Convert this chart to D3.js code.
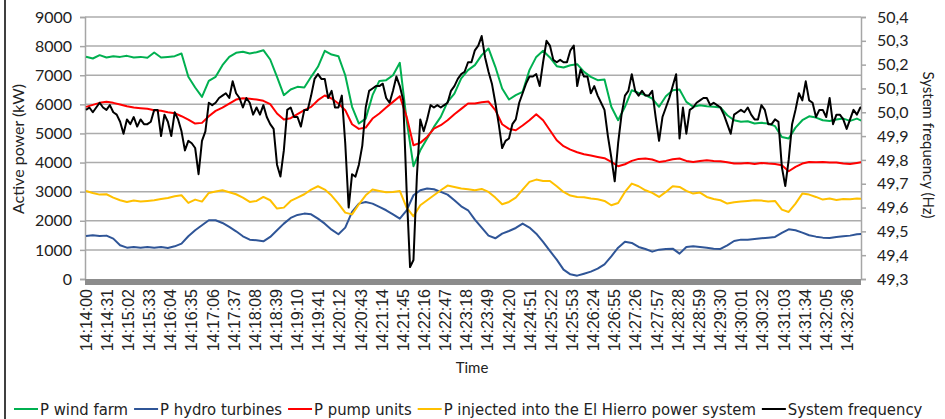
<!DOCTYPE html>
<html>
<head>
<meta charset="utf-8">
<script src="https://cdn.jsdelivr.net/npm/d3@7"></script>
<style>
  html, body { margin: 0; padding: 0; background: #fff; }
  svg { display: block; }
</style>
</head>
<body>
<svg id="chart" width="945" height="419"></svg>
<script>
// Sampling steps (seconds) of the recorded series, counted from 14:14:00
const powerStep = 10;
const freqStep = 5;

// Category labels on the time axis (every 31 s)
const timeLabels = [
  "14:14:00","14:14:31","14:15:02","14:15:33","14:16:04","14:16:35","14:17:06","14:17:37",
  "14:18:08","14:18:39","14:19:10","14:19:41","14:20:12","14:20:43","14:21:14","14:21:45",
  "14:22:16","14:22:47","14:23:18","14:23:49","14:24:20","14:24:51","14:25:22","14:25:53",
  "14:26:24","14:26:55","14:27:26","14:27:57","14:28:28","14:28:59","14:29:30","14:30:01",
  "14:30:32","14:31:03","14:31:34","14:32:05","14:32:36"
];

const powerTicks = [0, 1000, 2000, 3000, 4000, 5000, 6000, 7000, 8000, 9000];
const freqTicks = [49.3, 49.4, 49.5, 49.6, 49.7, 49.8, 49.9, 50.0, 50.1, 50.2, 50.3, 50.4];

// Active power, kW
const windFarm = [
  7632,7575,7690,7610,7655,7630,7665,7610,7630,7600,
  7780,7610,7630,7655,7745,6945,6578,6257,6807,6945,
  7345,7630,7770,7805,7745,7790,7860,7540,6945,6315,
  6510,6600,6580,6945,7290,7840,7710,7655,7000,5915,
  5340,5510,6315,6805,6830,7000,7425,5450,3875,4420,
  4825,5225,5570,6085,6370,6890,7175,7345,7690,7920,
  7290,6545,6165,6315,6430,7175,7630,7840,7610,7310,
  7265,7345,7380,7115,6945,6830,6850,5915,5455,5915,
  6485,6395,6315,6200,5915,6280,6485,6510,6085,5915,
  5970,5935,5915,5890,5625,5455,5400,5420,5340,5365,
  5340,5250,4880,4825,5200,5455,5590,5545,5455,5430,
  5480,5510,5430,5510,5400
];

const hydroTurbines = [
  1478,1500,1478,1490,1387,1157,1077,1100,1077,1100,
  1077,1100,1066,1123,1215,1467,1673,1845,2017,2017,
  1925,1788,1639,1467,1352,1330,1295,1444,1673,1902,
  2097,2200,2246,2223,2074,1902,1696,1536,1765,2303,
  2590,2647,2590,2475,2361,2223,2074,2361,2876,3048,
  3106,3083,2991,2899,2705,2498,2361,2040,1765,1490,
  1398,1558,1650,1753,1902,1765,1558,1272,963,665,
  321,160,115,183,252,355,504,779,1077,1283,
  1238,1100,1031,940,1008,1031,1043,871,1100,1123,
  1100,1077,1043,1031,1157,1306,1352,1352,1375,1398,
  1421,1444,1581,1707,1673,1593,1501,1455,1421,1410,
  1444,1467,1490,1536,1558
];

const pumpUnits = [
  5913,5982,6051,6085,6051,5994,5936,5890,5867,5845,
  5799,5776,5730,5696,5592,5478,5340,5363,5592,5776,
  5890,6028,6165,6211,6188,6165,6120,6005,5684,5478,
  5524,5661,5799,5913,6143,6303,6200,6028,5799,5317,
  5157,5203,5512,5684,5890,6085,6280,5570,4595,4676,
  4882,5168,5283,5455,5661,5845,6028,6028,6074,6097,
  5799,5317,5157,5111,5272,5455,5661,5455,5111,4767,
  4561,4446,4355,4286,4240,4194,4149,4022,3873,3942,
  4057,4126,4137,4103,4022,4057,4114,4137,4057,4022,
  4057,4080,4057,4045,4011,3965,3965,3988,3954,3988,
  3965,3954,3908,3702,3850,3965,4022,4011,4022,4000,
  4000,3965,3954,3988,4022
];

const injectedPower = [
  3025,2957,2899,2911,2796,2705,2647,2693,2659,2682,
  2705,2750,2785,2842,2876,2613,2727,2659,2957,3003,
  3048,2980,2911,2796,2647,2682,2819,2705,2418,2452,
  2682,2796,2911,3071,3186,3071,2865,2590,2280,2220,
  2567,2876,3071,3025,2980,2991,3025,2452,2154,2533,
  2705,2876,3048,3209,3163,3106,3083,3048,3094,2991,
  2796,2567,2647,2796,3071,3335,3415,3369,3369,3186,
  2991,2865,2819,2808,2762,2739,2682,2533,2613,2991,
  3278,3186,3048,2957,2819,2991,3186,3163,3025,2934,
  2968,2819,2750,2705,2590,2636,2659,2682,2705,2693,
  2659,2682,2384,2303,2590,2934,2899,2819,2727,2762,
  2716,2750,2739,2762,2750
];

// System frequency, Hz
const systemFrequency = [
  50.01,50.02,50.00,50.02,50.04,50.02,50.01,50.03,50.00,49.99,
  49.96,49.91,49.97,49.95,49.98,49.94,49.97,49.95,49.95,49.96,
  50.01,50.01,49.90,49.99,49.96,49.90,50.00,49.97,49.92,49.84,
  49.88,49.87,49.85,49.74,49.88,49.92,50.04,50.03,50.04,50.06,
  50.07,50.08,50.06,50.13,50.08,50.06,50.02,50.06,50.04,49.99,
  50.02,49.99,50.03,49.98,49.95,49.93,49.78,49.73,49.84,50.01,
  50.02,49.98,49.98,49.94,50.01,50.01,50.07,50.14,50.16,50.14,
  50.14,50.06,50.09,50.02,50.02,50.07,49.87,49.60,49.74,49.73,
  49.78,49.86,50.02,50.09,50.10,50.11,50.11,50.12,50.06,50.04,
  50.09,50.15,50.11,50.05,49.67,49.35,49.38,49.73,49.97,49.92,
  49.97,50.03,50.02,50.03,50.02,50.03,50.04,50.09,50.11,50.14,
  50.16,50.17,50.21,50.21,50.26,50.28,50.32,50.23,50.17,50.12,
  50.04,49.95,49.85,49.88,49.89,49.95,49.97,50.04,50.08,50.12,
  50.15,50.15,50.16,50.11,50.21,50.30,50.28,50.22,50.21,50.22,
  50.21,50.21,50.26,50.28,50.11,50.18,50.15,50.15,50.08,50.11,
  50.07,50.04,50.01,49.90,49.81,49.71,49.87,49.99,50.07,50.09,
  50.16,50.09,50.07,50.09,50.07,50.07,50.09,49.98,49.88,49.98,
  50.02,50.06,50.11,50.16,49.89,50.02,49.91,50.01,50.02,50.04,
  50.05,50.06,50.06,50.03,50.04,50.03,50.02,49.99,49.95,49.91,
  49.99,50.00,50.01,50.00,50.02,49.99,49.97,49.97,50.03,50.01,
  49.95,49.95,49.97,49.96,49.77,49.69,49.80,49.95,50.01,50.08,
  50.05,50.13,50.05,50.04,49.98,50.01,50.01,49.98,50.06,49.95,
  49.99,49.99,49.97,49.93,49.97,50.01,49.99,50.02,50.02
];

const seriesNames = [
  "P wind farm",
  "P hydro turbines",
  "P pump units",
  "P injected into the El Hierro power system",
  "System frequency"
];
const seriesColors = ["#00b050", "#2f5597", "#ff0000", "#ffc000", "#000000"];

// ---------------------------------------------------------------------------
const svg = d3.select("#chart");
const area = { left: 85, right: 861, top: 17, bottom: 279 };
const font = "Lato, 'Open Sans', sans-serif";

const toSeconds = s => {
  const [h, m, sec] = s.split(":").map(Number);
  return (h * 3600 + m * 60 + sec) - (14 * 3600 + 14 * 60);
};

const x = d3.scaleLinear().domain([0, 1136]).range([86, area.right]);
const yP = d3.scaleLinear().domain([0, 9000]).range([area.bottom, area.top]);
const yF = d3.scaleLinear().domain([49.3, 50.4]).range([area.bottom, area.top]);

const commaLocale = d3.formatLocale({ decimal: ",", thousands: ".", grouping: [3], currency: ["", ""] });
const fmtHz = commaLocale.format(".1f");

// outer frame line at the left
svg.append("line")
  .attr("x1", 5).attr("x2", 5).attr("y1", 0).attr("y2", 419)
  .attr("stroke", "#000").attr("stroke-width", 1.5);

// horizontal gridlines
svg.append("g").selectAll("line").data(powerTicks.filter(v => v > 0)).join("line")
  .attr("x1", area.left).attr("x2", area.right)
  .attr("y1", d => yP(d)).attr("y2", d => yP(d))
  .attr("stroke", "#acacac").attr("stroke-width", 1.5);

// left axis
const gL = svg.append("g").attr("transform", `translate(${area.left},0)`)
  .call(d3.axisLeft(yP).tickValues(powerTicks).tickSize(5).tickPadding(8).tickFormat(d3.format("d")));
gL.select(".domain").attr("stroke", "#a6a6a6").attr("stroke-width", 1.5);
gL.selectAll(".tick line").attr("stroke", "#a6a6a6").attr("stroke-width", 1.5);
gL.selectAll(".tick text").attr("font-family", font).attr("font-size", 16).attr("fill", "#222");

// right axis
const gR = svg.append("g").attr("transform", `translate(${area.right},0)`)
  .call(d3.axisRight(yF).tickValues(freqTicks).tickSize(5).tickPadding(11).tickFormat(fmtHz));
gR.select(".domain").attr("stroke", "#a6a6a6").attr("stroke-width", 1.5);
gR.selectAll(".tick line").attr("stroke", "#a6a6a6").attr("stroke-width", 1.5);
gR.selectAll(".tick text").attr("font-family", font).attr("font-size", 16).attr("fill", "#222");

// base band of the time axis
svg.append("rect")
  .attr("x", area.left).attr("y", yP(0))
  .attr("width", area.right - area.left).attr("height", 6)
  .attr("fill", "#8c8c8c");

// time labels
svg.append("g").selectAll("text").data(timeLabels).join("text")
  .attr("transform", d => `translate(${x(toSeconds(d))},289) rotate(-90)`)
  .attr("text-anchor", "end")
  .attr("dy", "0.35em")
  .attr("font-family", "'Liberation Sans', Arial, sans-serif")
  .attr("font-size", 16)
  .attr("fill", "#222")
  .text(d => d);

// axis titles
svg.append("text")
  .attr("transform", `translate(18,149) rotate(-90)`)
  .attr("text-anchor", "middle").attr("dy", "0.35em")
  .attr("font-family", font).attr("font-size", 16).attr("fill", "#222")
  .text("Active power (kW)");
svg.append("text")
  .attr("transform", `translate(928,145) rotate(90)`)
  .attr("text-anchor", "middle").attr("dy", "0.35em")
  .attr("font-family", font).attr("font-size", 15).attr("fill", "#222")
  .text("System frequency (Hz)");
svg.append("text")
  .attr("x", 472).attr("y", 368).attr("dy", "0.35em")
  .attr("text-anchor", "middle")
  .attr("font-family", font).attr("font-size", 15).attr("fill", "#222")
  .text("Time");

// series lines
svg.append("clipPath").attr("id", "plotClip")
  .append("rect").attr("x", area.left).attr("y", 0)
  .attr("width", area.right - area.left).attr("height", area.bottom + 2);

const plotG = svg.append("g").attr("clip-path", "url(#plotClip)");
const powerLine = d3.line().x((d, i) => x(i * powerStep)).y(d => yP(d));
const freqLine = d3.line().x((d, i) => x(i * freqStep)).y(d => yF(d));

[windFarm, hydroTurbines, pumpUnits, injectedPower].forEach((s, k) => {
  plotG.append("path").datum(s)
    .attr("d", powerLine)
    .attr("fill", "none")
    .attr("stroke", seriesColors[k])
    .attr("stroke-width", 2)
    .attr("stroke-linejoin", "round");
});
plotG.append("path").datum(systemFrequency)
  .attr("d", freqLine)
  .attr("fill", "none")
  .attr("stroke", seriesColors[4])
  .attr("stroke-width", 2)
  .attr("stroke-linejoin", "round");

// legend
const legend = svg.append("g").attr("transform", "translate(0,409)");
let lx = 14;
seriesNames.forEach((name, k) => {
  legend.append("line")
    .attr("x1", lx).attr("x2", lx + 24).attr("y1", 0).attr("y2", 0)
    .attr("stroke", seriesColors[k]).attr("stroke-width", 2);
  const t = legend.append("text")
    .attr("x", lx + 26).attr("y", 0).attr("dy", "0.35em")
    .attr("font-family", "'DejaVu Sans Condensed', sans-serif")
    .attr("font-stretch", "condensed")
    .attr("font-size", 16.5).attr("fill", "#222")
    .text(name);
  lx += 26 + t.node().getComputedTextLength() + 6;
});
</script>
</body>
</html>
